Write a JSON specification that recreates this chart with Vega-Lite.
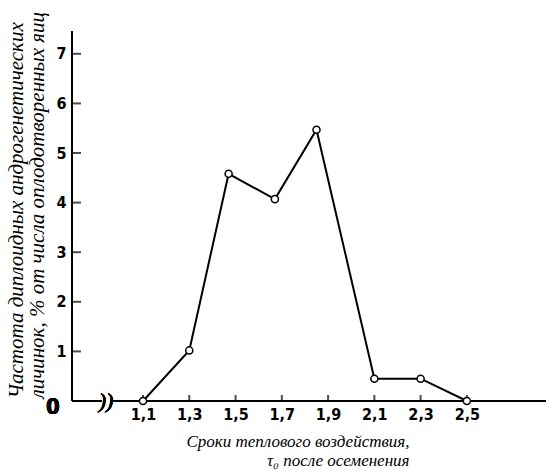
{
  "$schema": "https://vega.github.io/schema/vega-lite/v6.json",
  "autosize": "none",
  "width": 474,
  "height": 370,
  "padding": {"left": 72, "top": 31, "right": 2, "bottom": 74},
  "background": "white",
  "config": {"view": {"stroke": null}},
  "datasets": {
    "points": [
      {"t": 1.1, "v": 0},
      {"t": 1.3, "v": 1.02},
      {"t": 1.47, "v": 4.58},
      {"t": 1.67, "v": 4.07},
      {"t": 1.85, "v": 5.47},
      {"t": 2.1, "v": 0.45},
      {"t": 2.3, "v": 0.45},
      {"t": 2.5, "v": 0}
    ],
    "yticks": [{"tick": 1}, {"tick": 2}, {"tick": 3}, {"tick": 4}, {"tick": 5}, {"tick": 6}, {"tick": 7}],
    "xticks": [{"tick": 1.1}, {"tick": 1.3}, {"tick": 1.5}, {"tick": 1.7}, {"tick": 1.9}, {"tick": 2.1}, {"tick": 2.3}, {"tick": 2.5}]
  },
  "data": {"name": "points"},
  "layer": [
    {
      "mark": {"type": "rule", "color": "black", "strokeWidth": 2},
      "encoding": {
        "x": {"datum": 0.793, "type": "quantitative"},
        "y": {"datum": 0, "type": "quantitative"},
        "y2": {"datum": 7.46}
      }
    },
    {
      "mark": {"type": "rule", "color": "black", "strokeWidth": 2},
      "encoding": {
        "x": {"datum": 0.793, "type": "quantitative"},
        "x2": {"datum": 2.842},
        "y": {"datum": 0, "type": "quantitative"}
      }
    },
    {
      "data": {"name": "yticks"},
      "mark": {"type": "tick", "color": "black", "thickness": 2, "size": 9, "orient": "horizontal", "xOffset": 4.5},
      "encoding": {
        "x": {"datum": 0.793, "type": "quantitative"},
        "y": {"field": "tick", "type": "quantitative"}
      }
    },
    {
      "data": {"name": "xticks"},
      "mark": {"type": "tick", "color": "black", "thickness": 2, "size": 6, "orient": "vertical", "yOffset": -3},
      "encoding": {
        "x": {"field": "tick", "type": "quantitative"},
        "y": {"datum": 0, "type": "quantitative"}
      }
    },
    {
      "mark": {"type": "line", "color": "black", "strokeWidth": 2},
      "encoding": {
        "x": {"field": "t", "type": "quantitative",
          "scale": {"domain": [0.793, 2.842], "nice": false, "zero": false},
          "axis": {
            "orient": "bottom",
            "values": [1.1, 1.3, 1.5, 1.7, 1.9, 2.1, 2.3, 2.5],
            "labelExpr": "replace(format(datum.value, '.1f'), '.', ',')",
            "grid": false, "domain": false, "ticks": false,
            "labelPadding": 5,
            "labelFont": "DejaVu Sans Condensed", "labelFontWeight": "bold", "labelFontSize": 16, "labelColor": "black",
            "title": ["Сроки теплового воздействия,", "τ₀ после осеменения"],
            "titleFont": "Liberation Serif", "titleFontStyle": "italic", "titleFontWeight": "normal", "titleFontSize": 17,
            "titleColor": "black", "titleAlign": "right", "titleBaseline": "middle",
            "titleX": 337, "titleY": 40, "titleLineHeight": 19
          }
        },
        "y": {"field": "v", "type": "quantitative",
          "scale": {"domain": [0, 7.46], "nice": false},
          "axis": {
            "orient": "left",
            "values": [1, 2, 3, 4, 5, 6, 7],
            "grid": false, "domain": false, "ticks": false,
            "labelPadding": 6,
            "labelFont": "DejaVu Sans Condensed", "labelFontWeight": "bold", "labelFontSize": 16, "labelColor": "black",
            "title": ["Частота диплоидных андрогенетических", "личинок, % от числа оплодотворенных яиц"],
            "titleFont": "Liberation Serif", "titleFontStyle": "italic", "titleFontWeight": "normal", "titleFontSize": 21,
            "titleColor": "black", "titleAngle": 270, "titleAlign": "left", "titleBaseline": "middle",
            "titleX": -56, "titleY": 367, "titleLineHeight": 21
          }
        }
      }
    },
    {
      "mark": {"type": "point", "shape": "circle", "filled": true, "fill": "white", "stroke": "black", "strokeWidth": 1.5, "size": 50, "opacity": 1},
      "encoding": {
        "x": {"field": "t", "type": "quantitative"},
        "y": {"field": "v", "type": "quantitative"}
      }
    },
    {
      "mark": {"type": "rect", "color": "white"},
      "encoding": {
        "x": {"datum": 0.925}, "x2": {"datum": 0.955},
        "y": {"datum": -0.15}, "y2": {"datum": 0.15}
      }
    },
    {
      "mark": {"type": "text", "text": "))", "font": "Liberation Serif", "fontStyle": "italic", "fontSize": 22, "color": "black", "baseline": "middle", "align": "center"},
      "encoding": {"x": {"datum": 0.94}, "y": {"datum": 0}}
    },
    {
      "mark": {"type": "text", "text": "0", "font": "DejaVu Sans Condensed", "fontWeight": "bold", "fontSize": 22, "color": "black", "baseline": "middle", "align": "center", "dx": -19, "dy": 6},
      "encoding": {"x": {"datum": 0.793}, "y": {"datum": 0}}
    }
  ]
}
